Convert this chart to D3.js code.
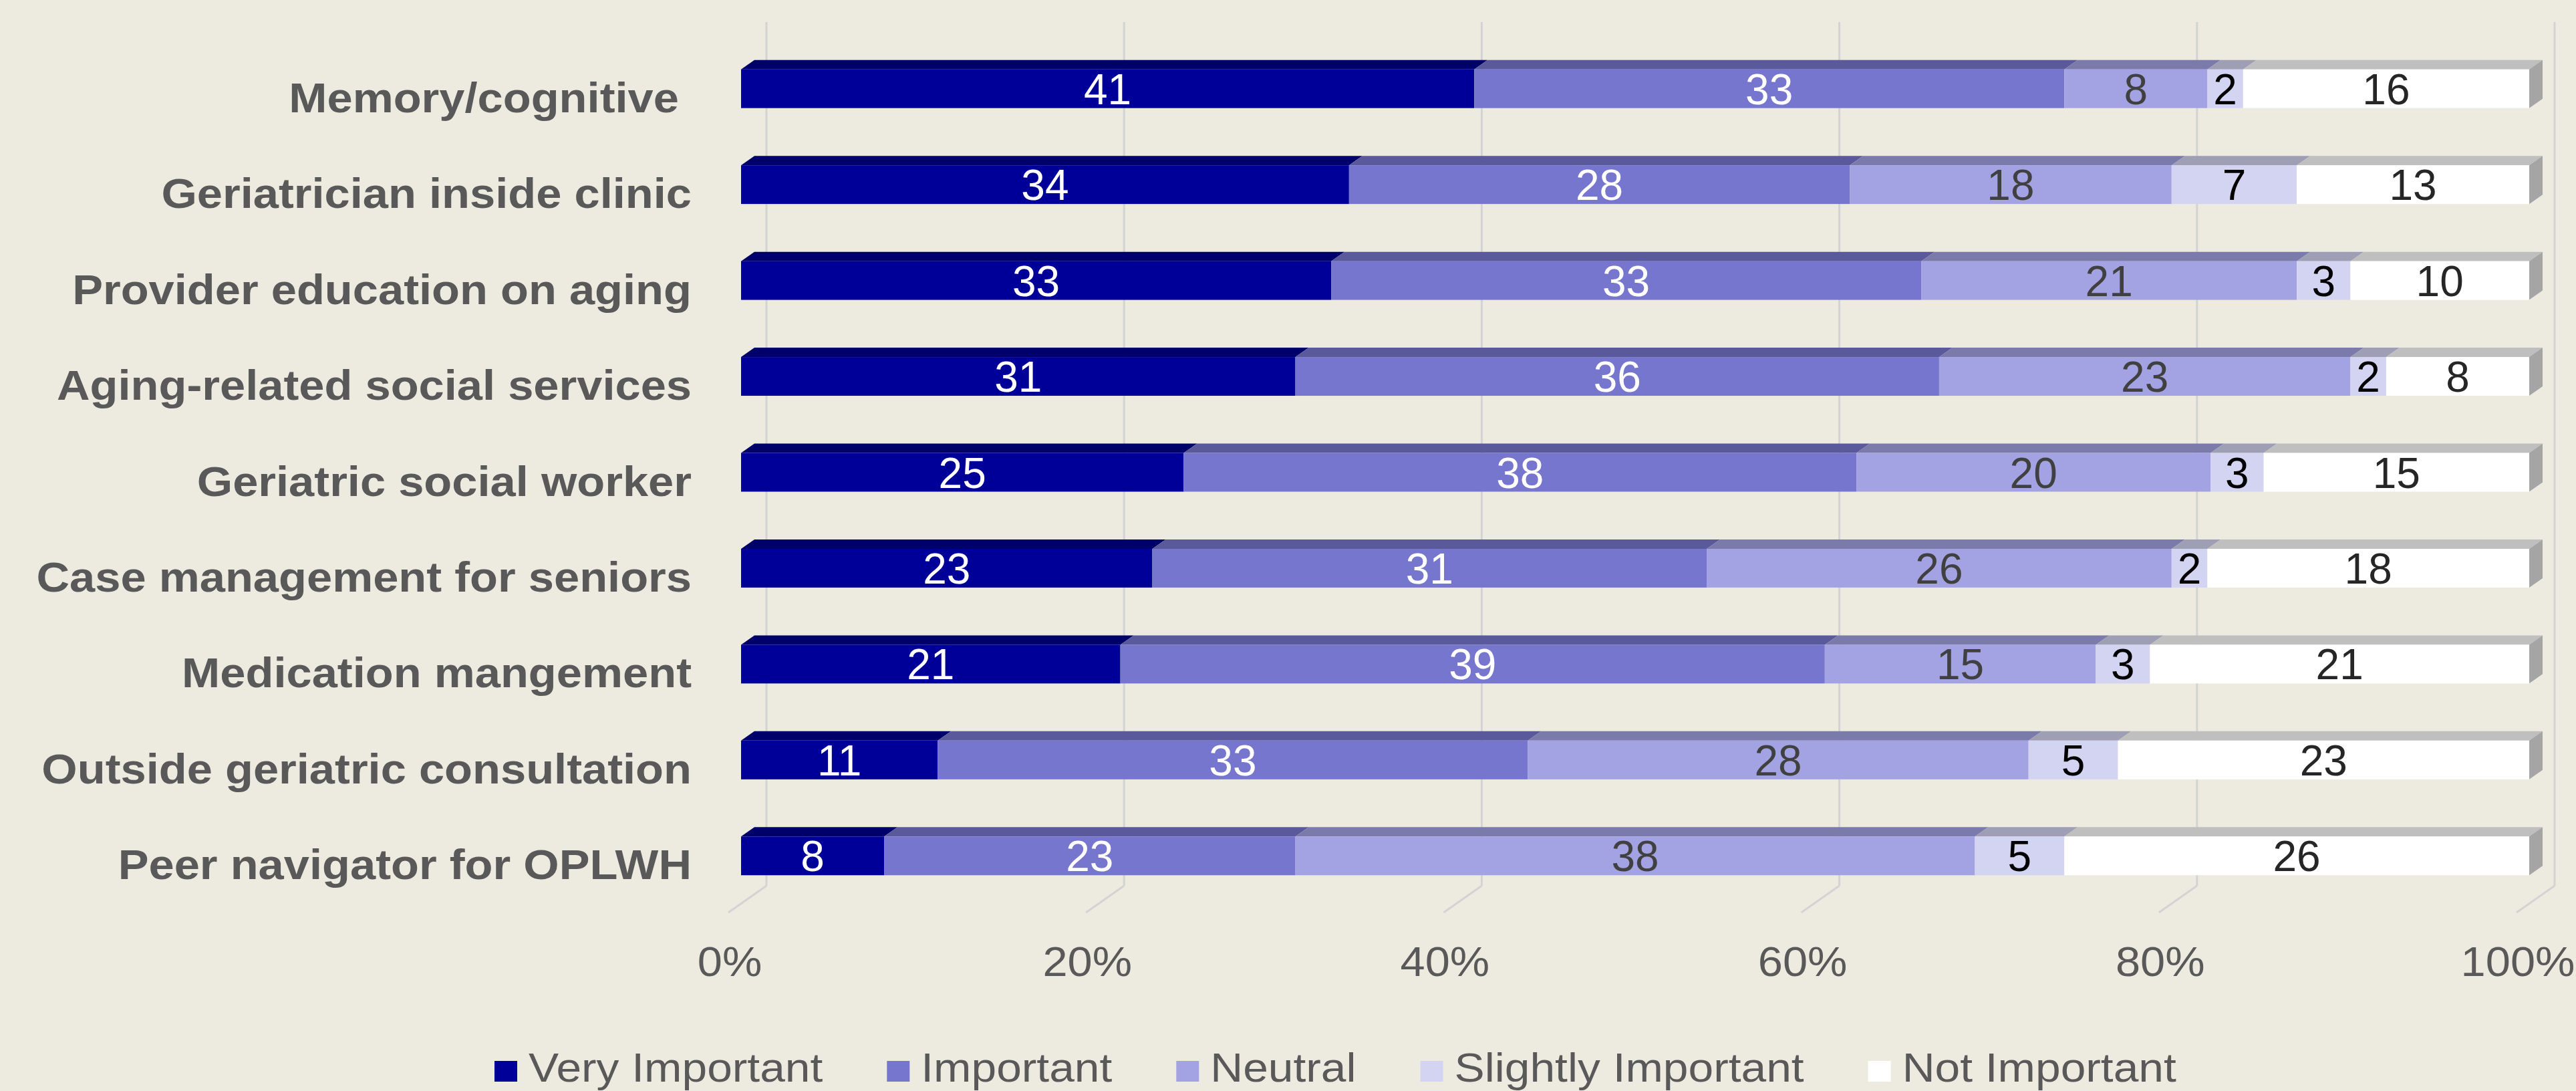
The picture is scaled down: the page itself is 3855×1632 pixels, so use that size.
<!DOCTYPE html>
<html>
<head>
<meta charset="utf-8">
<script src="https://cdn.jsdelivr.net/npm/d3@7"></script>
<style>
  html, body { margin: 0; padding: 0; background: #edebe0; }
  svg { display: block; }
  text { font-family: "Liberation Sans", Arial, sans-serif; white-space: pre; }
</style>
</head>
<body>
<svg id="chart" width="3855" height="1632"></svg>
<script>
// ---- Data ----
const categories = [
  "Memory/cognitive ",
  "Geriatrician inside clinic",
  "Provider education on aging",
  "Aging-related social services",
  "Geriatric social worker",
  "Case management for seniors",
  "Medication mangement",
  "Outside geriatric consultation",
  "Peer navigator for OPLWH"
];
const seriesNames = ["Very Important", "Important", "Neutral", "Slightly Important", "Not Important"];
const veryImportant     = [41, 34, 33, 31, 25, 23, 21, 11, 8];
const important         = [33, 28, 33, 36, 38, 31, 39, 33, 23];
const neutral           = [8, 18, 21, 23, 20, 26, 15, 28, 38];
const slightlyImportant = [2, 7, 3, 2, 3, 2, 3, 5, 5];
const notImportant      = [16, 13, 10, 8, 15, 18, 21, 23, 26];
const tickValues = [0, 0.2, 0.4, 0.6, 0.8, 1.0];
const tickLabels = ["0%", "20%", "40%", "60%", "80%", "100%"];

// ---- Styles ----
const frontColors = ["#000099", "#7676cf", "#a3a3e3", "#d3d3f2", "#ffffff"];
const topColors   = ["#00006b", "#59599b", "#7a7aab", "#9e9eb5", "#bfbfbf"];
const sideColor   = "#a5a5a5";
const labelColors = ["#ffffff", "#ffffff", "#404040", "#000000", "#262626"];
const textGray = "#595959";
const gridColor = "#d3d3d3";

const table = categories.map((c, i) => ({
  cat: c,
  "Very Important": veryImportant[i],
  "Important": important[i],
  "Neutral": neutral[i],
  "Slightly Important": slightlyImportant[i],
  "Not Important": notImportant[i]
}));

const svg = d3.select("#chart");
svg.append("rect").attr("width", 3855).attr("height", 1632).attr("fill", "#edebe0");

// 3D geometry
const depthDX = 20, depthDY = 14;      // bar depth
const backDX = 38, backDY = 27;        // bar front plane -> back wall
const frontDX = -19, frontDY = 13;     // bar front plane -> floor front edge
const wallTop = 33;

const x = d3.scaleLinear().domain([0, 1]).range([1109, 3785]);
const y = d3.scaleBand().domain(categories).range([61, 1352]).paddingInner(0.596).paddingOuter(0.298);
const floorY = y.range()[1];

// Back wall gridlines + floor lines
const grid = svg.append("g");
tickValues.forEach(v => {
  const xb = x(v) + backDX, yb = floorY - backDY;
  grid.append("line").attr("x1", xb).attr("x2", xb).attr("y1", wallTop).attr("y2", yb)
    .attr("stroke", gridColor).attr("stroke-width", 3);
  grid.append("line").attr("x1", xb).attr("y1", yb)
    .attr("x2", x(v) + frontDX).attr("y2", floorY + frontDY)
    .attr("stroke", gridColor).attr("stroke-width", 3);
});

// Stack
const stack = d3.stack().keys(seriesNames).offset(d3.stackOffsetExpand);
const stacked = stack(table);
const h = y.bandwidth();

const bars = svg.append("g");
stacked.forEach((layer, si) => {
  const g = bars.append("g");
  layer.forEach(d => {
    const x0 = x(d[0]), x1 = x(d[1]), yt = y(d.data.cat);
    g.append("polygon")
      .attr("points", [[x0, yt], [x1, yt], [x1 + depthDX, yt - depthDY], [x0 + depthDX, yt - depthDY]].map(p => p.join(",")).join(" "))
      .attr("fill", topColors[si]);
    g.append("rect").attr("x", x0).attr("y", yt).attr("width", Math.max(0, x1 - x0)).attr("height", h)
      .attr("fill", frontColors[si]);
    if (si === seriesNames.length - 1) {
      g.append("polygon")
        .attr("points", [[x1, yt], [x1 + depthDX, yt - depthDY], [x1 + depthDX, yt + h - depthDY], [x1, yt + h]].map(p => p.join(",")).join(" "))
        .attr("fill", sideColor);
    }
  });
});

// Value labels
const labels = svg.append("g").attr("font-size", 64).attr("text-anchor", "middle");
stacked.forEach((layer, si) => {
  layer.forEach(d => {
    const cx = (x(d[0]) + x(d[1])) / 2;
    const cy = y(d.data.cat) + h / 2;
    labels.append("text").attr("x", cx).attr("y", cy).attr("dy", "0.36em")
      .attr("fill", labelColors[si]).text(d.data[seriesNames[si]]);
  });
});

// Category labels
const catG = svg.append("g");
categories.forEach(c => {
  const cy = y(c) + h / 2 + 35;
  catG.append("text")
    .attr("transform", `translate(1035,${cy}) scale(1.09,1)`)
    .attr("text-anchor", "end").attr("font-weight", "bold").attr("font-size", 63)
    .attr("fill", textGray).text(c);
});

// Tick labels
const tickG = svg.append("g");
tickValues.forEach((v, i) => {
  tickG.append("text")
    .attr("transform", `translate(${x(v) + frontDX + 2},1460) scale(1.06,1)`)
    .attr("text-anchor", "middle").attr("font-size", 63).attr("fill", textGray)
    .text(tickLabels[i]);
});

// Legend
const legend = svg.append("g");
let lx = 740;
seriesNames.forEach((s, i) => {
  legend.append("rect").attr("x", lx).attr("y", 1587).attr("width", 34).attr("height", 31)
    .attr("fill", frontColors[i]);
  const t = legend.append("text")
    .attr("transform", `translate(${lx + 51},1618) scale(1.11,1)`)
    .attr("font-size", 61).attr("fill", textGray).text(s);
  const w = t.node().getComputedTextLength() * 1.11;
  lx += 51 + w + 96;
});
</script>
</body>
</html>
